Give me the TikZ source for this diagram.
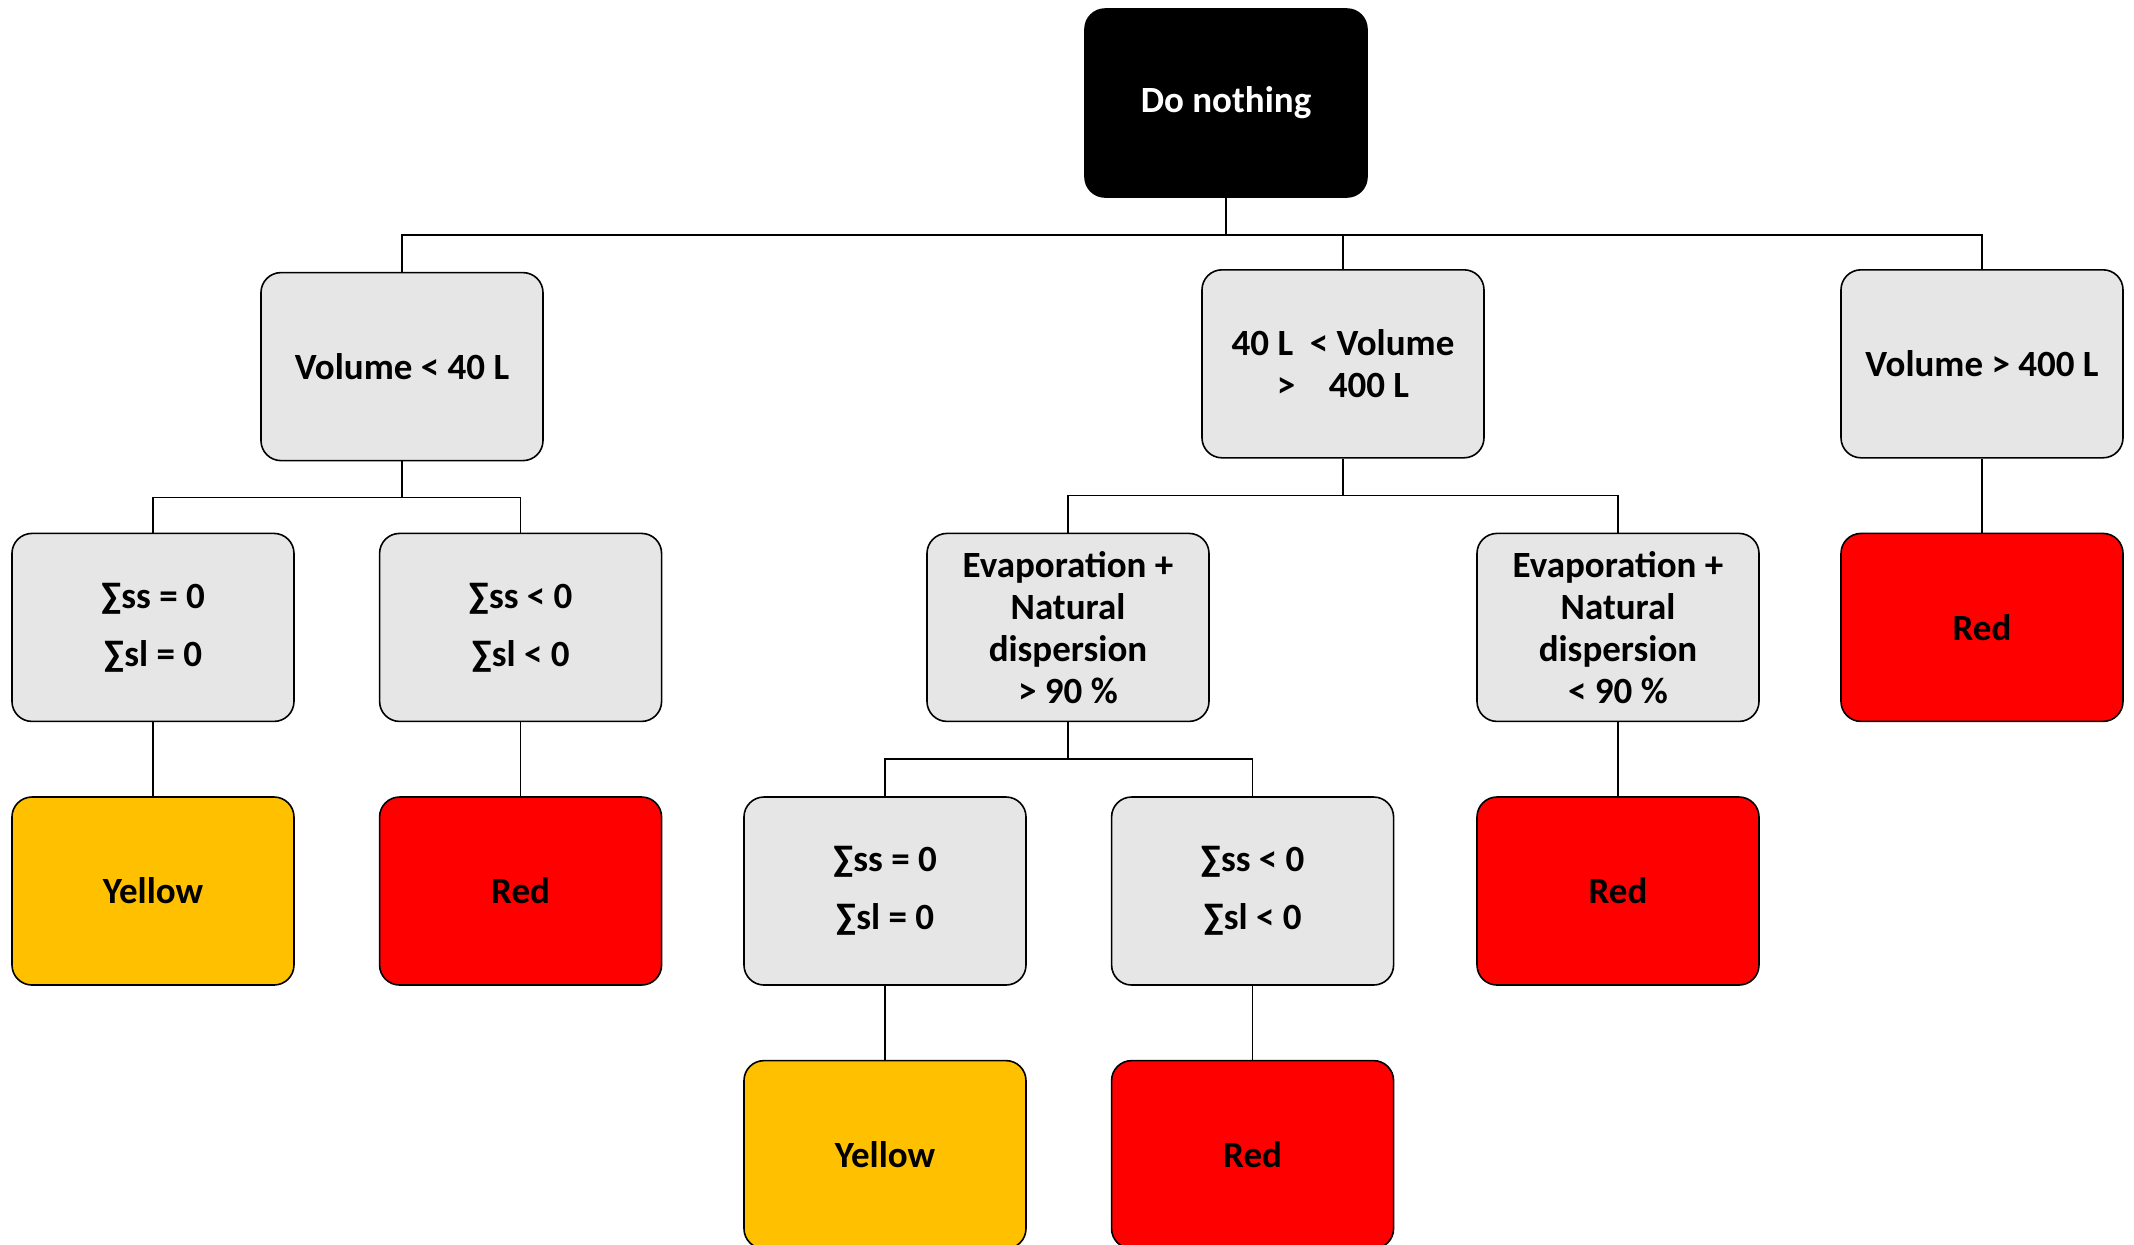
\documentclass[tikz,border=0pt]{standalone}
\usepackage{fontspec}
\setmainfont{Carlito}
\usetikzlibrary{positioning}
\definecolor{boxgray}{HTML}{E6E6E6}
\definecolor{warnyellow}{HTML}{FFC000}
\definecolor{warnred}{HTML}{FF0000}

\begin{document}
\begin{tikzpicture}[
  font=\fontsize{18.5}{21}\selectfont\bfseries,
  node distance=37pt and 42pt,
  % Common box
  basebox/.style={
    rectangle, draw=black, line width=0.8pt, rounded corners=10pt,
    minimum width=141pt, minimum height=94pt, align=center, inner sep=2pt
  },
  % Root decision
  rootbox/.style={basebox, fill=black, text=white},
  % Condition blocks
  condbox/.style={basebox, fill=boxgray},
  % Outcome blocks
  yellowbox/.style={basebox, fill=warnyellow},
  redbox/.style={basebox, fill=warnred},
  % Tree connectors
  link/.style={line width=0.8pt, draw=black}
]

\useasboundingbox (-613pt,51.5pt) rectangle (454pt,-570.5pt);

% === ROOT ===
\node[rootbox] (root) at (0,0) {Do nothing};

% === VOLUME CLASSES ===
\node[condbox, below=of root, xshift=-412pt] (vsmall) {Volume < 40 L};
\node[condbox, below=35.6pt of root, xshift=58.5pt] (vmid) {40 L\ \ < Volume\\>\ \ \ \ 400 L};
\node[condbox, below=35.6pt of root, xshift=378pt] (vlarge) {Volume > 400 L};

% === SECOND LEVEL ===
\node[condbox, below=35.6pt of vsmall, xshift=-124.5pt] (sumeq1) {∑ss = 0\\[8pt]∑sl = 0};
\node[condbox, right=of sumeq1] (sumlt1) {∑ss < 0\\[8pt]∑sl < 0};
\node[condbox, below=of vmid, xshift=-137.5pt] (evaphi) {Evaporation +\\Natural\\dispersion\\> 90 \%};
\node[condbox, below=of vmid, xshift=137.5pt] (evaplo) {Evaporation +\\Natural\\dispersion\\< 90 \%};
\node[redbox, below=of vlarge] (redlarge) {Red};

% === THIRD LEVEL ===
\node[yellowbox, below=of sumeq1] (yelsmall) {Yellow};
\node[redbox, below=of sumlt1] (redsmall) {Red};
\node[condbox, below=of evaphi, xshift=-91.5pt] (sumeq2) {∑ss = 0\\[8pt]∑sl = 0};
\node[condbox, right=of sumeq2] (sumlt2) {∑ss < 0\\[8pt]∑sl < 0};
\node[redbox, below=of evaplo] (redevap) {Red};

% === FOURTH LEVEL ===
\node[yellowbox, below=of sumeq2] (yelevap) {Yellow};
\node[redbox, below=of sumlt2] (redsum) {Red};

% === CONNECTORS ===
\draw[link] (root.south) -- ++(0,-18.5pt) -| (vsmall.north);
\draw[link] (root.south) -- ++(0,-18.5pt) -| (vmid.north);
\draw[link] (root.south) -- ++(0,-18.5pt) -| (vlarge.north);

\draw[link] (vsmall.south) -- ++(0,-18pt) -| (sumeq1.north);
\draw[link] (vsmall.south) -- ++(0,-18pt) -| (sumlt1.north);
\draw[link] (vmid.south) -- ++(0,-18.5pt) -| (evaphi.north);
\draw[link] (vmid.south) -- ++(0,-18.5pt) -| (evaplo.north);
\draw[link] (vlarge) -- (redlarge);

\draw[link] (sumeq1) -- (yelsmall);
\draw[link] (sumlt1) -- (redsmall);
\draw[link] (evaphi.south) -- ++(0,-18.5pt) -| (sumeq2.north);
\draw[link] (evaphi.south) -- ++(0,-18.5pt) -| (sumlt2.north);
\draw[link] (evaplo) -- (redevap);

\draw[link] (sumeq2) -- (yelevap);
\draw[link] (sumlt2) -- (redsum);

\end{tikzpicture}
\end{document}
